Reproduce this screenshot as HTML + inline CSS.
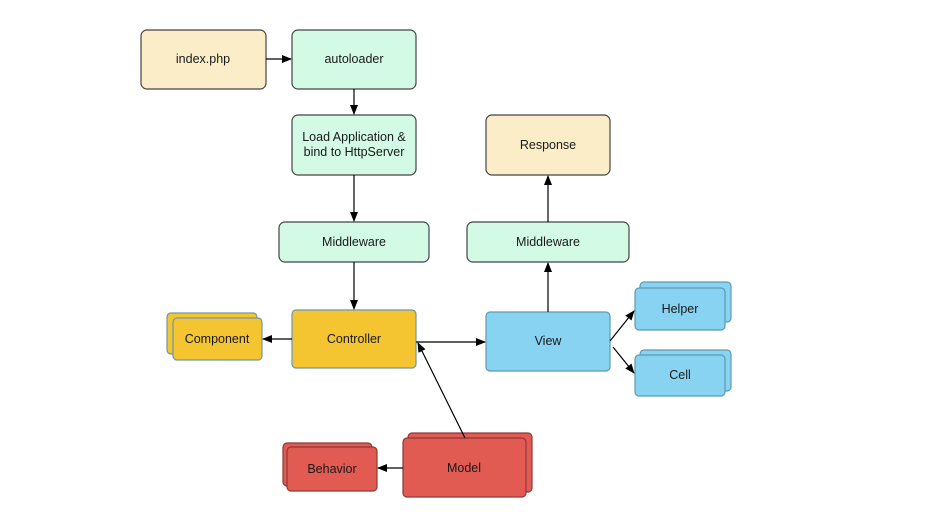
<!DOCTYPE html>
<html><head><meta charset="utf-8"><style>
html,body{margin:0;padding:0;background:#fff;width:950px;height:516px;overflow:hidden}
text{font-family:"Liberation Sans",sans-serif;font-size:12.5px;fill:#1a1a1a;text-anchor:middle;dominant-baseline:central}
</style></head><body>
<svg width="950" height="516" viewBox="0 0 950 516" xmlns="http://www.w3.org/2000/svg">
<defs><marker id="a" markerWidth="10" markerHeight="8" refX="9" refY="4" orient="auto" markerUnits="userSpaceOnUse"><path d="M0,0 L10,4 L0,8 Z" fill="#000"/></marker></defs>
<g stroke-width="1.2">
<rect x="141" y="30" width="125" height="59" rx="6" fill="#faedc8" stroke="#444"/>
<rect x="292" y="30" width="124" height="59" rx="6" fill="#d3fae4" stroke="#444"/>
<rect x="292" y="115" width="124" height="60" rx="6" fill="#d3fae4" stroke="#444"/>
<rect x="279" y="222" width="150" height="40" rx="6" fill="#d3fae4" stroke="#444"/>
<rect x="467" y="222" width="162" height="40" rx="6" fill="#d3fae4" stroke="#444"/>
<rect x="486" y="115" width="124" height="60" rx="6" fill="#faedc8" stroke="#444"/>
<rect x="292" y="310" width="124" height="58" rx="4" fill="#f4c431" stroke="#6a9aa8"/>
<rect x="167" y="313" width="90" height="41" rx="4" fill="#f4c431" stroke="#6a9aa8"/>
<rect x="173" y="318" width="89" height="42" rx="4" fill="#f4c431" stroke="#6a9aa8"/>
<rect x="486" y="312" width="124" height="59" rx="4" fill="#88d2f2" stroke="#5f9ab0"/>
<rect x="640" y="282" width="91" height="40" rx="4" fill="#88d2f2" stroke="#5f9ab0"/>
<rect x="635" y="288" width="90" height="42" rx="4" fill="#88d2f2" stroke="#5f9ab0"/>
<rect x="640" y="350" width="91" height="41" rx="4" fill="#88d2f2" stroke="#5f9ab0"/>
<rect x="635" y="355" width="90" height="41" rx="4" fill="#88d2f2" stroke="#5f9ab0"/>
<rect x="283" y="443" width="89" height="43" rx="4" fill="#e25b53" stroke="#8a3a3a"/>
<rect x="287" y="447" width="90" height="44" rx="4" fill="#e25b53" stroke="#8a3a3a"/>
<rect x="408" y="433" width="124" height="59" rx="4" fill="#e25b53" stroke="#8a3a3a"/>
<rect x="403" y="438" width="123" height="59" rx="4" fill="#e25b53" stroke="#8a3a3a"/>
</g>
<g stroke="#000" stroke-width="1.2" fill="none" marker-end="url(#a)">
<line x1="266" y1="59" x2="291" y2="59"/>
<line x1="354" y1="89" x2="354" y2="114"/>
<line x1="354" y1="175" x2="354" y2="221"/>
<line x1="354" y1="262" x2="354" y2="309"/>
<line x1="292" y1="339" x2="263" y2="339"/>
<line x1="416" y1="342" x2="485" y2="342"/>
<line x1="465" y1="438" x2="418" y2="343"/>
<line x1="548" y1="312" x2="548" y2="263"/>
<line x1="548" y1="222" x2="548" y2="176"/>
<line x1="610" y1="341" x2="634" y2="311"/>
<line x1="613" y1="347" x2="634" y2="373"/>
<line x1="403" y1="468" x2="378" y2="468"/>
</g>
<text x="203" y="59">index.php</text>
<text x="354" y="59">autoloader</text>
<text x="354" y="137">Load Application &amp;</text>
<text x="354" y="152">bind to HttpServer</text>
<text x="354" y="242">Middleware</text>
<text x="548" y="242">Middleware</text>
<text x="548" y="145">Response</text>
<text x="354" y="339">Controller</text>
<text x="217" y="339">Component</text>
<text x="548" y="341">View</text>
<text x="680" y="309">Helper</text>
<text x="680" y="375">Cell</text>
<text x="332" y="469">Behavior</text>
<text x="464" y="468">Model</text>
</svg>
</body></html>
